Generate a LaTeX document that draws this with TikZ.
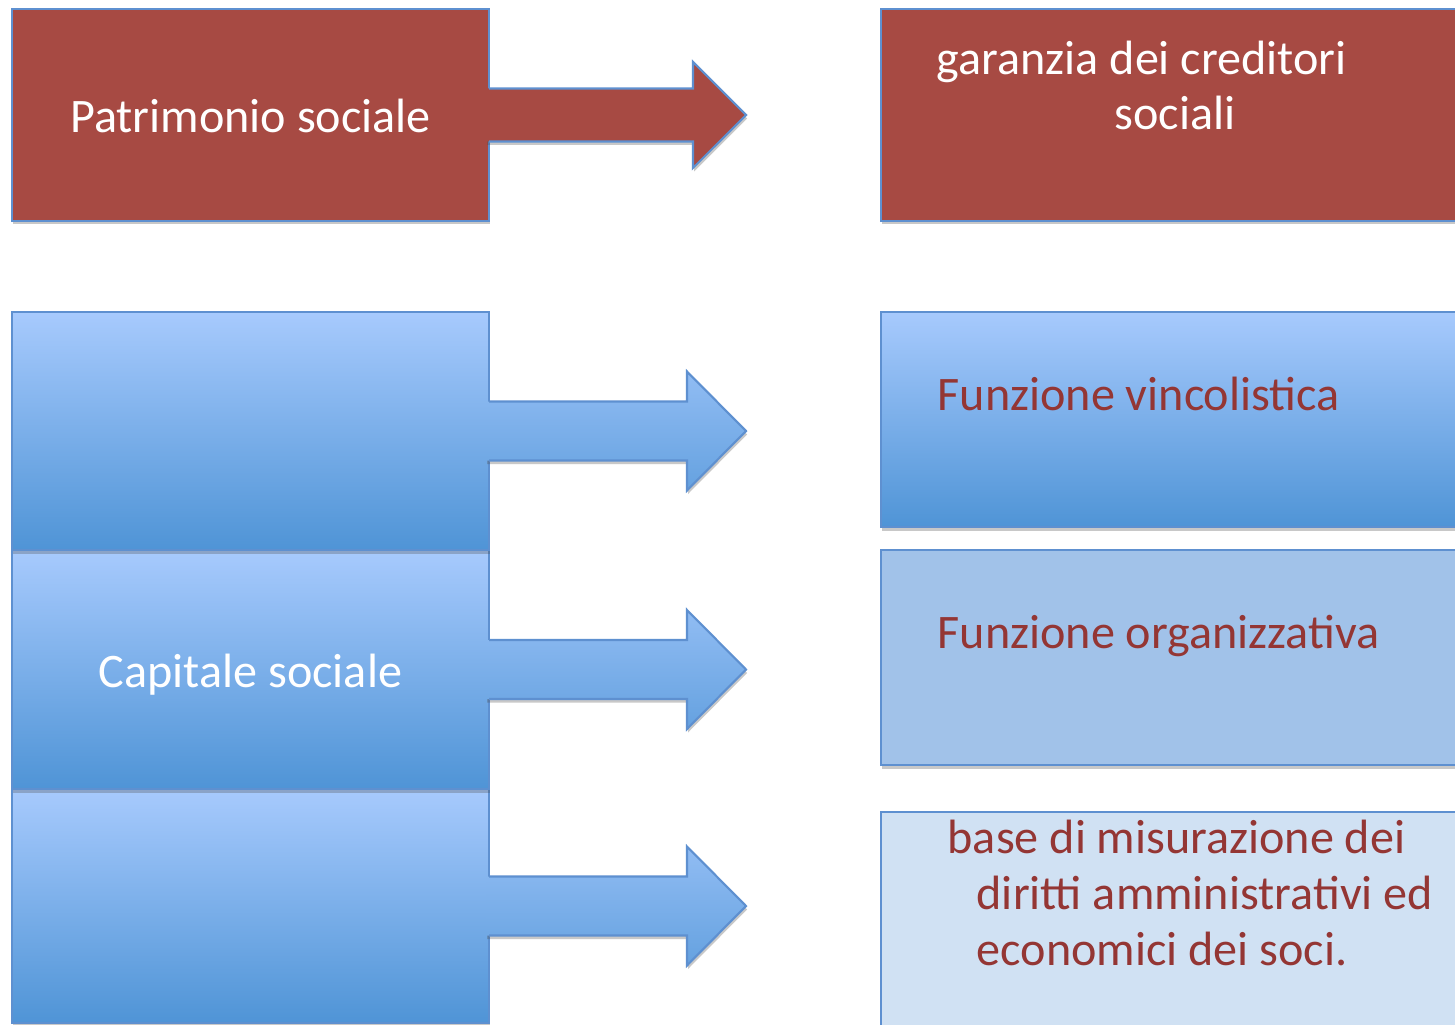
\documentclass[tikz,border=0pt]{standalone}
\usepackage{fontspec}
\setmainfont{Carlito}
\usetikzlibrary{positioning, calc, shadows}

\definecolor{redfill}{RGB}{167,74,67}
\definecolor{rimblue}{RGB}{94,144,208}
\definecolor{bluetop}{RGB}{167,202,253}
\definecolor{bluebot}{RGB}{79,148,214}
\definecolor{bluemid}{RGB}{161,194,233}
\definecolor{bluepale}{RGB}{208,225,243}
\definecolor{textred}{RGB}{148,54,52}

% fat arrow out of the east side of a box:
% #1 box, #2 half shaft, #3 half head, #4 neck, #5 tip, #6 fill
\newcommand{\fatarrow}[6]{%
  \path[#6] ($(#1.east)+(-0.03,#2)$) -- ($(#1.east)+(#4,#2)$) -- ($(#1.east)+(#4,#3)$)
    -- ($(#1.east)+(#5,0)$) -- ($(#1.east)+(#4,-#3)$) -- ($(#1.east)+(#4,-#2)$)
    -- ($(#1.east)+(-0.03,-#2)$) -- cycle;
  \draw[rim] ($(#1.east)+(0,#2)$) -- ($(#1.east)+(#4,#2)$) -- ($(#1.east)+(#4,#3)$)
    -- ($(#1.east)+(#5,0)$) -- ($(#1.east)+(#4,-#3)$) -- ($(#1.east)+(#4,-#2)$)
    -- ($(#1.east)+(0,-#2)$);}

\begin{document}
\begin{tikzpicture}[
    rim/.style = {draw = rimblue, line width = 0.6pt}, % outline of every shape
    softshadow/.style = {drop shadow = {shadow xshift = 0.01cm,
        shadow yshift = -0.035cm, opacity = 0.3, fill = black!70}},
    redbox/.style = {rectangle, rim, fill = redfill, outer sep = 0pt,
        inner sep = 0pt, softshadow},
    bluebox/.style = {rectangle, rim, top color = bluetop, bottom color = bluebot,
        outer sep = 0pt, inner sep = 0pt, softshadow},
    flatbox/.style = {rectangle, rim, outer sep = 0pt, inner sep = 0pt, softshadow},
    bluearrow/.style = {top color = bluetop!75!bluebot,
        bottom color = bluetop!25!bluebot, softshadow},
    txt/.style = {font = \fontsize{13.7}{15.9}\selectfont, inner sep = 0pt},
    lowtxt/.style = {txt, text = white, text height = 0.36cm, text depth = 0pt}
  ]

  \clip (0,0) rectangle (14.55,10.24);
  \fill[white] (0,0) rectangle (14.55,10.24);

  % top row
  \node[redbox, minimum width = 4.77cm, minimum height = 2.12cm, lowtxt]
      (pat) at (2.505,9.09) {Patrimonio sociale};
  \fatarrow{pat}{0.265}{0.53}{2.04}{2.57}{fill = redfill, softshadow}
  \node[redbox, minimum width = 5.84cm, minimum height = 2.12cm,
      right = 3.92cm of pat] (gar) {};
  \node[txt, text = white, anchor = base west, align = left] (gartxt)
      at ($(gar.north west)+(0.55,-1.21)$)
      {garanzia dei creditori\\\hspace*{1.78cm}sociali};

  % capitale sociale, drawn from the bottom up
  \node[bluebox, minimum width = 4.77cm, minimum height = 2.34cm] (cap3)
      at (2.505,1.18) {};
  \fatarrow{cap3}{0.295}{0.595}{1.98}{2.57}{bluearrow}
  \node[bluebox, minimum width = 4.77cm, minimum height = 2.39cm, lowtxt,
      above = 0pt of cap3] (cap2) {Capitale sociale};
  \fatarrow{cap2}{0.295}{0.595}{1.98}{2.57}{bluearrow}
  \node[bluebox, minimum width = 4.77cm, minimum height = 2.38cm,
      above = 0pt of cap2] (cap1) {};
  \fatarrow{cap1}{0.295}{0.595}{1.98}{2.57}{bluearrow}

  % funzioni
  \node[bluebox, minimum width = 5.84cm, minimum height = 2.15cm,
      right = 3.92cm of cap1.north east, anchor = north west] (fvin) {};
  \node[flatbox, fill = bluemid, minimum width = 5.84cm, minimum height = 2.15cm,
      below = 0.23cm of fvin] (forg) {};
  \node[flatbox, fill = bluepale, minimum width = 5.84cm, minimum height = 2.15cm,
      below = 0.47cm of forg] (fmis) {};

  \node[txt, text = textred, anchor = base west] (vinc)
      at ($(fvin.north west)+(0.56,-0.98)$) {Funzione vincolistica};
  \node[txt, text = textred, anchor = base west] (org)
      at ($(forg.north west)+(0.56,-0.98)$) {Funzione organizzativa};
  \node[txt, text = textred, anchor = base west, align = left] (mis)
      at ($(fmis.north west)+(0.66,-1.53)$)
      {base di misurazione dei\\\hspace*{0.29cm}diritti amministrativi ed\\
       \hspace*{0.29cm}economici dei soci.};
\end{tikzpicture}
\end{document}
